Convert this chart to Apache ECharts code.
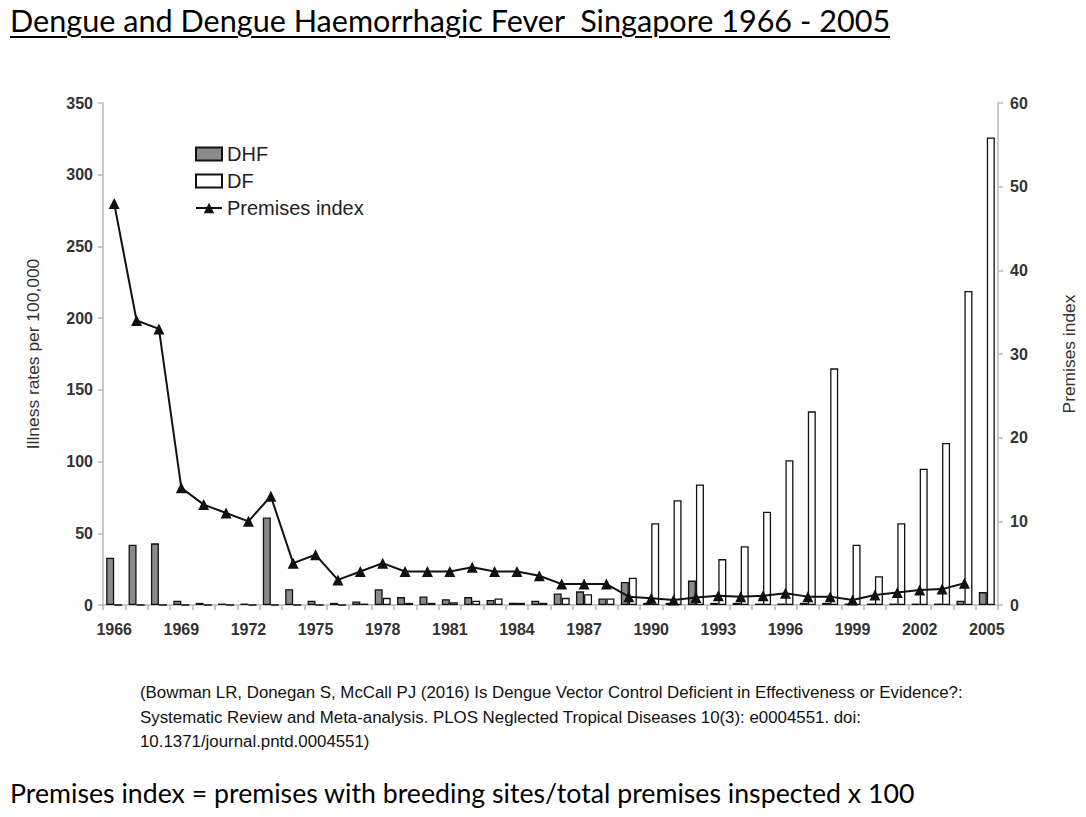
<!DOCTYPE html>
<html>
<head>
<meta charset="utf-8">
<script src="https://cdn.jsdelivr.net/npm/echarts@6/dist/echarts.min.js"></script>
<style>
  body { margin: 0; background: #fff; }
  #page { position: relative; width: 1086px; height: 817px; overflow: hidden; }
  #title { position: absolute; left: 10px; top: 2px; font-family: Lato, "Open Sans", sans-serif; font-size: 30.6px; color: #000; text-decoration: underline; text-decoration-thickness: 2px; text-underline-offset: 4px; white-space: nowrap; }
  #chart { position: absolute; left: 0; top: 0; width: 1086px; height: 817px; }
  #cite { position: absolute; left: 140px; top: 681px; font-family: "Liberation Sans", Arial, sans-serif; font-size: 16.85px; line-height: 24.5px; color: #111; white-space: nowrap; }
  #note { position: absolute; left: 10px; top: 777px; font-family: Lato, "Open Sans", sans-serif; font-size: 26.7px; color: #000; white-space: nowrap; }
</style>
</head>
<body>
<div id="page">
  <div id="chart"></div>
  <div id="title">Dengue and Dengue Haemorrhagic Fever&nbsp; Singapore 1966 - 2005</div>
  <div id="cite">(Bowman LR, Donegan S, McCall PJ (2016) Is Dengue Vector Control Deficient in Effectiveness or Evidence?:<br>Systematic Review and Meta-analysis. PLOS Neglected Tropical Diseases 10(3): e0004551. doi:<br>10.1371/journal.pntd.0004551)</div>
  <div id="note">Premises index = premises with breeding sites/total premises inspected x 100</div>
</div>
<script>
var years = ['1966','1967','1968','1969','1970','1971','1972','1973','1974','1975',
             '1976','1977','1978','1979','1980','1981','1982','1983','1984','1985',
             '1986','1987','1988','1989','1990','1991','1992','1993','1994','1995',
             '1996','1997','1998','1999','2000','2001','2002','2003','2004','2005']

// illness rates per 100,000
var dhf = [33, 42, 43, 3, 1.5, 1, 1, 61, 11, 3,
           1.5, 2.5, 11, 5.5, 6, 4, 5.5, 3.5, 1.5, 3,
           8, 9.5, 4.5, 16, 1.5, 1.5, 17, 1.5, 1.5, 1,
           1, 1.5, 1.5, 1, 1, 1, 1, 1, 3, 9]
var df = [0, 0, 0, 0, 0, 0, 0, 0, 0, 0,
          0, 1, 5, 1.5, 1.5, 2, 3, 4.5, 1.5, 1.5,
          5, 7.5, 4.5, 19, 57, 73, 84, 32, 41, 65,
          101, 135, 165, 42, 20, 57, 95, 113, 219, 326]

// premises index (right axis)
var premises = [48, 34, 33, 14, 12, 11, 10, 13, 5, 6,
                3, 4, 5, 4, 4, 4, 4.5, 4, 4, 3.5,
                2.5, 2.5, 2.5, 1, 0.8, 0.6, 0.9, 1.1, 1.0, 1.1,
                1.4, 1.0, 1.0, 0.6, 1.2, 1.5, 1.8, 1.9, 2.6, null]

var axisGrey = '#b8b8b8'
var labelFont = { color: '#333', fontSize: 16, fontWeight: 'bold', fontFamily: 'Liberation Sans, Arial, sans-serif' }
var nameFont = { color: '#333', fontSize: 17.4, fontFamily: 'Liberation Sans, Arial, sans-serif' }

var mychart = echarts.init(document.getElementById('chart'), null, { renderer: 'svg' })
mychart.setOption({
    animation: false,
    grid: { left: 103, right: 88, top: 103, bottom: 212 },
    legend: {
        orient: 'vertical',
        left: 190,
        top: 139,
        itemGap: 7,
        itemWidth: 26,
        itemHeight: 13,
        textStyle: { color: '#222', fontSize: 20, fontFamily: 'Liberation Sans, Arial, sans-serif' },
        data: [
            { name: 'DHF', icon: 'rect' },
            { name: 'DF', icon: 'rect' },
            { name: 'Premises index' }
        ]
    },
    xAxis: {
        type: 'category',
        data: years,
        boundaryGap: true,
        axisLine: { lineStyle: { color: axisGrey, width: 1.5 } },
        axisTick: { show: true, interval: 0, length: 5, lineStyle: { color: axisGrey, width: 1.5 } },
        axisLabel: Object.assign({ interval: 2, margin: 16 }, labelFont)
    },
    yAxis: [{
        type: 'value',
        min: 0,
        max: 350,
        interval: 50,
        name: 'Illness rates per 100,000',
        nameLocation: 'middle',
        nameRotate: 90,
        nameGap: 62,
        nameTextStyle: nameFont,
        splitLine: { show: false },
        axisLine: { show: true, lineStyle: { color: axisGrey, width: 1.5 } },
        axisTick: { show: true, length: 5, lineStyle: { color: axisGrey, width: 1.5 } },
        axisLabel: Object.assign({ margin: 10 }, labelFont)
    }, {
        type: 'value',
        min: 0,
        max: 60,
        interval: 10,
        position: 'right',
        name: 'Premises index',
        nameLocation: 'middle',
        nameRotate: 90,
        nameGap: 62,
        nameTextStyle: nameFont,
        splitLine: { show: false },
        axisLine: { show: true, lineStyle: { color: axisGrey, width: 1.5 } },
        axisTick: { show: true, length: 5, lineStyle: { color: axisGrey, width: 1.5 } },
        axisLabel: Object.assign({ margin: 12 }, labelFont)
    }],
    series: [{
        name: 'DHF',
        type: 'bar',
        data: dhf,
        barWidth: 8,
        barGap: '0%',
        itemStyle: { color: '#8a8a8a', borderColor: '#111', borderWidth: 1.3 }
    }, {
        name: 'DF',
        type: 'bar',
        data: df,
        barWidth: 8,
        itemStyle: { color: '#fff', borderColor: '#111', borderWidth: 1.3 }
    }, {
        name: 'Premises index',
        type: 'line',
        yAxisIndex: 1,
        data: premises,
        symbol: 'triangle',
        symbolSize: 11,
        lineStyle: { color: '#111', width: 2 },
        itemStyle: { color: '#111' }
    }]
})
</script>
</body>
</html>
